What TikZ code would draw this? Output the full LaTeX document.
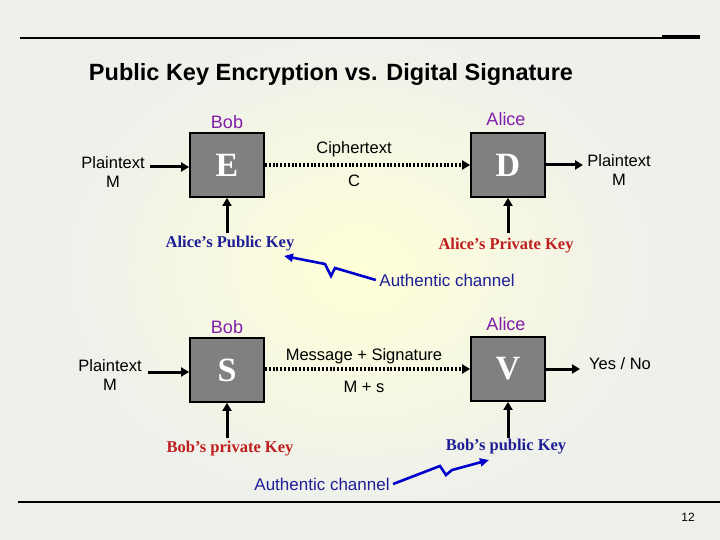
\documentclass[tikz,border=0pt]{standalone}
\usepackage{fontspec}
\setmainfont{Liberation Sans}
\newfontfamily\tms{Liberation Serif}
\usetikzlibrary{arrows.meta}
\definecolor{bgc}{RGB}{238,240,236}
\definecolor{glow}{RGB}{255,255,215}
\definecolor{purp}{RGB}{130,30,170}
\definecolor{navy}{RGB}{30,30,150}
\definecolor{redk}{RGB}{190,30,30}
\definecolor{boxg}{RGB}{128,128,128}
\begin{document}
\begin{tikzpicture}[x=1pt,y=-1pt,
  blk/.style={draw=black,line width=1.8pt,fill=boxg,minimum width=74pt,minimum height=64pt,inner sep=0pt,text=white,font=\tms\bfseries\fontsize{34}{36}\selectfont},
  lbl/.style={font=\fontsize{16.5}{19}\selectfont,align=center},
  who/.style={font=\fontsize{18}{20}\selectfont,text=purp},
  pub/.style={font=\tms\bfseries\fontsize{16.5}{19}\selectfont,text=navy},
  priv/.style={font=\tms\bfseries\fontsize{16.5}{19}\selectfont,text=redk},
  auth/.style={font=\fontsize{17}{19}\selectfont,text=navy},
  arr/.style={-{Triangle[length=8pt,width=9pt]},line width=3pt},
  dot/.style={-{Triangle[length=8pt,width=9pt]},line width=3.5pt,dash pattern=on 2pt off 1.8pt},
  sq/.style={-{Triangle[length=9pt,width=8pt]},line width=2.6pt,draw=blue!80!black}]
\useasboundingbox (0,0) rectangle (720,540);
\fill[bgc] (0,0) rectangle (720,540);
\shade[inner color=glow,outer color=bgc] (360,270) ellipse (300 and 240);
\draw[line width=1.3pt] (20,38) -- (700,38);
\draw[line width=2.5pt] (662,36) -- (700,36);
\draw[line width=2.5pt] (18,502) -- (720,502);
\node[font=\fontsize{12}{14}\selectfont] (pg) at (688,517) {12};
\node[font=\bfseries\fontsize{23.5}{27}\selectfont] (title) at (331,74) {Public Key Encryption vs. Digital Signature};
% top
\node[blk] (E) at (227,165) {E};
\node[blk] (D) at (508,165) {D};
\node[who] (bob1) at (227,122) {Bob};
\node[who] (al1) at (506,119) {Alice};
\node[lbl] (pt1) at (113,172) {Plaintext\\M};
\node[lbl] (pt2) at (619,170) {Plaintext\\M};
\node[lbl] (ct) at (354,149) {Ciphertext};
\node[lbl] (c) at (354,181) {C};
\node[pub] (apk) at (230,244) {Alice’s Public Key};
\node[priv] (ask) at (506,246) {Alice’s Private Key};
\node[auth] (au1) at (447,280) {Authentic channel};
\coordinate (t1) at (227,233);
\coordinate (t2) at (508,233);
\coordinate (p1s) at (150,167);
\draw[arr] (p1s) -- (E.west|-p1s);
\draw[arr] (D.east) -- (583,165);
\draw[dot] (E.east) -- (D.west);
\draw[arr] (t1) -- (E.south);
\draw[arr] (t2) -- (D.south);
\draw[sq] (au1.west) -- (335,268) -- (331,276) -- (325,264) -- (284,256);
% bottom
\node[blk] (S) at (227,370) {S};
\node[blk] (V) at (508,369) {V};
\node[who] (bob2) at (227,327) {Bob};
\node[who] (al2) at (506,324) {Alice};
\node[lbl] (pt3) at (110,375) {Plaintext\\M};
\node[lbl] (yn) at (620,364) {Yes / No};
\node[lbl] (ms) at (364,356) {Message + Signature};
\node[lbl] (mps) at (364,387) {M + s};
\node[priv] (bsk) at (230,449) {Bob’s private Key};
\node[pub] (bpk) at (506,447) {Bob’s public Key};
\node[auth] (au2) at (322,484) {Authentic channel};
\coordinate (t3) at (227,438);
\coordinate (t4) at (508,438);
\draw[arr] (148,372) -- (S.west|-0,372);
\draw[arr] (V.east|-0,369) -- (580,369);
\draw[dot] (S.east|-0,369) -- (V.west|-0,369);
\draw[arr] (t3) -- (S.south);
\draw[arr] (t4) -- (V.south);
\draw[sq] (au2.east) -- (440,466) -- (446,475) -- (452,470) -- (489,460);
\end{tikzpicture}
\end{document}
